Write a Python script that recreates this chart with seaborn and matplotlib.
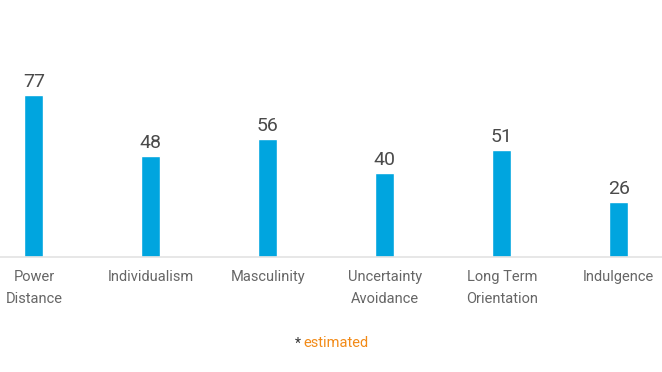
import seaborn as sns
import matplotlib.pyplot as plt
import pandas as pd

# Chart data
categories = ["Power\nDistance", "Individualism", "Masculinity",
              "Uncertainty\nAvoidance", "Long Term\nOrientation", "Indulgence"]
scores = [77, 48, 56, 40, 51, 26]

df = pd.DataFrame({"dimension": categories, "score": scores})

sns.set_style("white")
plt.rcParams["font.family"] = ["Roboto", "DejaVu Sans"]

fig = plt.figure(figsize=(6.62, 3.72), dpi=100)
ax = fig.add_axes([0, 0.309, 1, 0.691])

sns.barplot(data=df, x="dimension", y="score", color="#00a5df",
            width=0.162, saturation=1, ax=ax)

# value labels above bars
for i, v in enumerate(scores):
    ax.text(i, v + 2, str(v), ha="center", va="bottom", fontsize=14,
            color="#4a4a4a")

ax.set_xlim(-0.29, 5.37)
ax.set_ylim(0, 122.4)
ax.set_xlabel("")
ax.set_ylabel("")
ax.set_yticks([])
ax.tick_params(axis="x", length=0, pad=9, labelsize=10.5, labelcolor="#666666")
for lbl in ax.get_xticklabels():
    lbl.set_linespacing(1.75)

for s in ["top", "left", "right"]:
    ax.spines[s].set_visible(False)
ax.spines["bottom"].set_color("#e3e3e3")
ax.spines["bottom"].set_linewidth(1.2)

# footnote
fig.text(0.455, 0.077, "*", ha="right", va="center", fontsize=10, color="#333333")
fig.text(0.458, 0.077, "estimated", ha="left", va="center", fontsize=10.5, color="#f28a17")

fig.savefig("out.png", dpi=100)
